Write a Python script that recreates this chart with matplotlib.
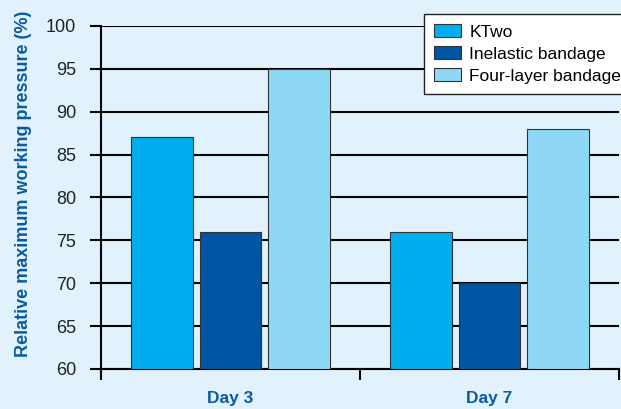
import matplotlib
matplotlib.use("Agg")
import matplotlib.pyplot as plt
import numpy as np

categories = ["Day 3", "Day 7"]
series = ["KTwo", "Inelastic bandage", "Four-layer bandage"]
ktwo = [87, 76]
inelastic = [76, 70]
four_layer = [95, 88]
yticks = [60, 65, 70, 75, 80, 85, 90, 95, 100]

colors = ["#00aeef", "#0055a4", "#8fd8f5"]
bg = "#e1f2fc"
blue = "#0a5aa5"

plt.rcParams['font.family'] = ['Liberation Sans', 'DejaVu Sans']

fig = plt.figure(figsize=(6.21, 4.09), dpi=100, facecolor=bg)
ax = fig.add_axes([101/621, 1-369/409, 518/621, (369-26)/409])
ax.set_facecolor(bg)

x = np.arange(len(categories))
w = 0.239
step = 0.265
for i, (vals, name) in enumerate(zip([ktwo, inelastic, four_layer], series)):
    ax.bar(x + (i-1)*step, [v-60 for v in vals], bottom=60, width=w, color=colors[i],
           edgecolor="#333333", linewidth=0.8, label=name, zorder=3)

ax.set_ylim(60, 100)
ax.set_xlim(-0.5, 1.5)
ax.set_yticks(yticks)
ax.set_yticklabels([str(t) for t in yticks], fontsize=13, color="#222222")
ax.yaxis.grid(True, color="black", linewidth=1.5, zorder=0)
ax.set_axisbelow(True)
ax.tick_params(axis='y', length=8, width=1.5, direction='out', pad=10)

ax.set_xticks([-0.5, 0.5, 1.5])
ax.set_xticklabels([])
ax.set_xticks(x, minor=True)
ax.set_xticklabels(categories, minor=True, fontsize=12.5, fontweight='bold', color=blue)
ax.tick_params(axis='x', which='major', length=8, width=1.5, direction='out')
ax.tick_params(axis='x', which='minor', length=0, pad=16)

for s in ['top', 'right']:
    ax.spines[s].set_visible(False)
for s in ['left', 'bottom']:
    ax.spines[s].set_linewidth(1.5)

ax.set_ylabel("Relative maximum working pressure (%)", fontsize=13, fontweight='bold',
              color=blue)
ax.yaxis.set_label_coords(-0.133, 0.54)

leg = fig.legend(loc='upper left', bbox_to_anchor=(424/621, 1-14/409), fontsize=12.5,
                 frameon=True, fancybox=False, edgecolor="#222222", framealpha=1,
                 handlelength=1.55, handleheight=0.75, handletextpad=0.45,
                 labelspacing=0.38, borderpad=0.6, borderaxespad=0)
leg.get_frame().set_linewidth(1.0)

fig.savefig("out.png", dpi=100, facecolor=bg)
